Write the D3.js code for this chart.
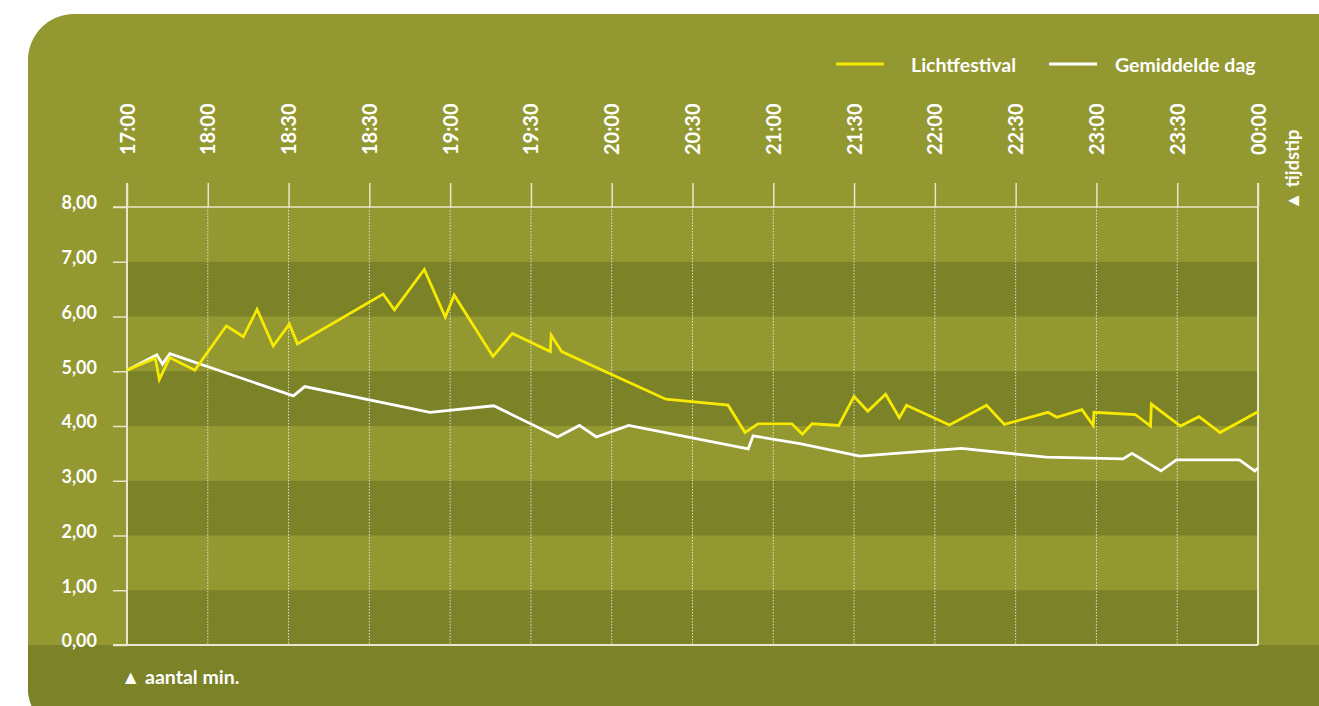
<!DOCTYPE html>
<html>
<head>
<meta charset="utf-8">
<script src="https://cdn.jsdelivr.net/npm/d3@7"></script>
<style>
  body { margin: 0; background: #fff; }
  svg { display: block; font-family: "Lato", "Open Sans", sans-serif; font-weight: 700; }
</style>
</head>
<body>
<div id="chart"></div>
<script>
// tick labels along the top (as printed, duplicate included)
const timeLabels = ["17:00", "18:00", "18:30", "18:30", "19:00", "19:30", "20:00", "20:30",
                    "21:00", "21:30", "22:00", "22:30", "23:00", "23:30", "00:00"];
const yTicks = [0, 1, 2, 3, 4, 5, 6, 7, 8];

// x = position in tick steps from 17:00, y = aantal min.
const lichtX = [0, 0.35, 0.40, 0.53, 0.84, 1.23, 1.44, 1.61, 1.81, 2.01, 2.11, 3.17, 3.31, 3.68, 3.94, 4.05,
                4.53, 4.77, 5.24, 5.25, 5.38, 6.67, 7.44, 7.65, 7.81, 8.23, 8.36, 8.48, 8.81, 9.00, 9.17,
                9.39, 9.56, 9.65, 10.18, 10.64, 10.86, 11.40, 11.51, 11.82, 11.96, 11.97, 12.48, 12.67,
                12.68, 13.04, 13.27, 13.53, 14.0];
const lichtY = [5.02, 5.24, 4.85, 5.25, 5.02, 5.83, 5.63, 6.13, 5.46, 5.86, 5.50, 6.41, 6.12, 6.86, 5.99, 6.39,
                5.27, 5.69, 5.36, 5.66, 5.36, 4.49, 4.38, 3.88, 4.04, 4.04, 3.85, 4.04, 4.01, 4.54, 4.27,
                4.58, 4.15, 4.38, 4.02, 4.38, 4.03, 4.25, 4.16, 4.30, 4.01, 4.25, 4.21, 4.00,
                4.40, 4.00, 4.17, 3.88, 4.26];
const gemX = [0, 0.37, 0.44, 0.53, 2.06, 2.20, 3.75, 4.54, 5.33, 5.60, 5.81, 6.21, 7.69, 7.75, 8.33, 9.07,
              10.33, 11.38, 12.33, 12.44, 12.80, 12.99, 13.77, 13.96, 14.0];
const gemY = [5.02, 5.30, 5.13, 5.32, 4.55, 4.72, 4.25, 4.37, 3.80, 4.01, 3.80, 4.01, 3.58, 3.82, 3.68, 3.45,
              3.59, 3.43, 3.40, 3.50, 3.18, 3.38, 3.38, 3.18, 3.23];

const seriesNames = ["Lichtfestival", "Gemiddelde dag"];
const seriesColors = ["#f7ea00", "#ffffff"];

const W = 1319, H = 706;
const panel = "#939831", dark = "#7b8228", axisCol = "#e8e6cc";

const svg = d3.select("#chart").append("svg")
    .attr("width", W).attr("height", H);

// background panel with rounded corners
svg.append("rect")
    .attr("x", 28).attr("y", 14)
    .attr("width", 1340).attr("height", 720)
    .attr("rx", 46).attr("ry", 46)
    .attr("fill", panel);

const clip = svg.append("defs").append("clipPath").attr("id", "pclip");
clip.append("rect").attr("x", 28).attr("y", 14).attr("width", 1340).attr("height", 720)
    .attr("rx", 46).attr("ry", 46);

svg.append("rect")
    .attr("x", 0).attr("y", 645).attr("width", W).attr("height", 100)
    .attr("fill", dark)
    .attr("clip-path", "url(#pclip)");

const pLeft = 127, pRight = 1258, pTop = 207, pBottom = 645;
const x = d3.scaleLinear().domain([0, timeLabels.length - 1]).range([pLeft, pRight]);
const y = d3.scaleLinear().domain([0, 8]).range([pBottom, pTop]);

// alternating bands
svg.append("g").selectAll("rect")
    .data(yTicks.slice(0, -1).filter(d => d % 2 === 0))
    .join("rect")
    .attr("x", pLeft).attr("width", pRight - pLeft)
    .attr("y", d => y(d + 1)).attr("height", d => y(d) - y(d + 1))
    .attr("fill", dark);

// dotted vertical gridlines
svg.append("g").selectAll("line")
    .data(d3.range(1, timeLabels.length - 1))
    .join("line")
    .attr("x1", d => x(d)).attr("x2", d => x(d))
    .attr("y1", pTop).attr("y2", pBottom)
    .attr("stroke", "#ffffff").attr("stroke-opacity", 0.75)
    .attr("stroke-width", 1).attr("stroke-dasharray", "1.5,1.5");

// top axis: ticks above the 8,00 line
const xAxis = d3.axisTop(x)
    .tickValues(d3.range(timeLabels.length))
    .tickFormat(i => timeLabels[i])
    .tickSize(24).tickPadding(28);
const gx = svg.append("g").attr("transform", `translate(0,${pTop})`).call(xAxis);
gx.select(".domain").remove();
gx.selectAll(".tick line").attr("stroke", axisCol).attr("stroke-width", 1.5);
gx.selectAll(".tick text")
    .attr("fill", "#fff").attr("font-size", 20).attr("font-family", "Lato, sans-serif").attr("font-weight", 700)
    .attr("transform", "rotate(-90)")
    .attr("text-anchor", "start")
    .attr("x", 52).attr("y", 0).attr("dy", "0.35em");

// horizontal line at 8 and baseline
svg.append("line").attr("x1", 113).attr("x2", pRight).attr("y1", pTop).attr("y2", pTop)
    .attr("stroke", axisCol).attr("stroke-width", 1.5);
svg.append("line").attr("x1", 113).attr("x2", pRight).attr("y1", pBottom).attr("y2", pBottom)
    .attr("stroke", axisCol).attr("stroke-width", 2);
svg.append("line").attr("x1", pRight).attr("x2", pRight).attr("y1", 183).attr("y2", pBottom)
    .attr("stroke", axisCol).attr("stroke-width", 2);

// left axis
const yAxis = d3.axisLeft(y).tickValues(yTicks)
    .tickFormat(d => d3.format(".2f")(d).replace(".", ","))
    .tickSize(14).tickPadding(16);
const gy = svg.append("g").attr("transform", `translate(${pLeft},0)`).call(yAxis);
gy.select(".domain").remove();
gy.selectAll(".tick line").attr("stroke", axisCol).attr("stroke-width", 1.5);
gy.selectAll(".tick text")
    .attr("fill", "#fff").attr("font-size", 18).attr("font-family", "Lato, sans-serif").attr("font-weight", 700)
    .attr("dy", "0.1em");
svg.append("line").attr("x1", pLeft).attr("x2", pLeft).attr("y1", 183).attr("y2", pBottom)
    .attr("stroke", axisCol).attr("stroke-width", 2);

// the lines
const line = d3.line().x(d => x(d[0])).y(d => y(d[1]));
const series = [d3.zip(gemX, gemY), d3.zip(lichtX, lichtY)];
svg.append("g").selectAll("path")
    .data(series)
    .join("path")
    .attr("d", line)
    .attr("fill", "none")
    .attr("stroke", (d, i) => i === 0 ? seriesColors[1] : seriesColors[0])
    .attr("stroke-width", 2.8)
    .attr("stroke-linejoin", "miter");

// legend
const legend = svg.append("g").attr("font-size", 19.5).attr("fill", "#fff");
const legX = [836, 1049], legTextX = [911, 1115];
seriesNames.forEach((name, i) => {
  legend.append("line")
      .attr("x1", legX[i]).attr("x2", legX[i] + 48)
      .attr("y1", 64).attr("y2", 64)
      .attr("stroke", seriesColors[i]).attr("stroke-width", 2.8);
  legend.append("text")
      .attr("x", legTextX[i]).attr("y", 65).attr("dy", "0.35em")
      .text(name);
});

// axis titles
svg.append("text")
    .attr("transform", "translate(1293,210) rotate(-90)")
    .attr("dy", "0.35em")
    .attr("fill", "#fff").attr("font-size", 18.5)
    .text("▲ tijdstip");
svg.append("text")
    .attr("x", 121).attr("y", 677).attr("dy", "0.35em")
    .attr("fill", "#fff").attr("font-size", 19.5)
    .text("▲ aantal min.");
</script>
</body>
</html>
